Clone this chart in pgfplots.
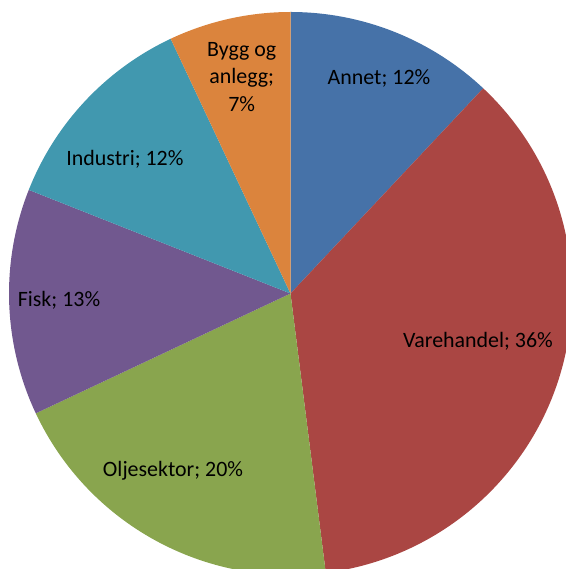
\documentclass[border=0pt]{standalone}
\usepackage{fontspec}
\setmainfont{Carlito}
\usepackage{pgfplots}
\usepackage{pgfplotstable}
\pgfplotsset{compat=1.18}
\definecolor{cA}{HTML}{4672A8}
\definecolor{cB}{HTML}{AA4643}
\definecolor{cC}{HTML}{89A54E}
\definecolor{cD}{HTML}{71588F}
\definecolor{cE}{HTML}{4198AF}
\definecolor{cF}{HTML}{DB843D}

% shares in percent, clockwise from 12 o'clock
\pgfplotstableread[col sep=comma]{
sector,share,col
Annet,12,cA
Varehandel,36,cB
Oljesektor,20,cC
Fisk,13,cD
Industri,12,cE
Bygg og anlegg,7,cF
}\piedata

\begin{document}
\begin{tikzpicture}[lbl/.style={anchor=base, text=black, font=\fontsize{22}{26}\selectfont}]
\begin{axis}[
    width=566bp, height=569bp,
    scale only axis,
    xmin=-290.5, xmax=275.5,
    ymin=-275.5, ymax=293.5,
    axis line style={draw=none},
    ticks=none,
    clip=true,
]
\pgfplotstablegetrowsof{\piedata}
\pgfmathtruncatemacro\last{\pgfplotsretval-1}
\def\cum{0}
\pgfplotsforeachungrouped \i in {0,...,\last}{%
    \pgfplotstablegetelem{\i}{share}\of\piedata \let\v\pgfplotsretval
    \pgfplotstablegetelem{\i}{col}\of\piedata \let\c\pgfplotsretval
    \pgfmathsetmacro\a{90-3.6*\cum}%
    \pgfmathsetmacro\b{90-3.6*(\cum+\v)}%
    \edef\temp{\noexpand\fill[\c] (axis cs:0,0) -- (axis cs:{281.5*cos(\a)},{281.5*sin(\a)})
        arc[start angle=\a, end angle=\b, radius=281.5bp] -- cycle;}%
    \temp
    \pgfmathsetmacro\cum{\cum+\v}%
}

\node[lbl] at (axis cs:88.5,208.5) {Annet; 12\%};
\node[lbl] at (axis cs:187.5,-54.5) {Varehandel; 36\%};
\node[lbl] at (axis cs:-117.5,-183.2) {Oljesektor; 20\%};
\node[lbl] at (axis cs:-231.5,-13.2) {Fisk; 13\%};
\node[lbl] at (axis cs:-165.5,127.5) {Industri; 12\%};
\node[lbl] at (axis cs:-48.8,236.8) {Bygg og};
\node[lbl] at (axis cs:-48.8,210.2) {anlegg;};
\node[lbl] at (axis cs:-48.8,181.8) {7\%};
\end{axis}
\end{tikzpicture}
\end{document}
